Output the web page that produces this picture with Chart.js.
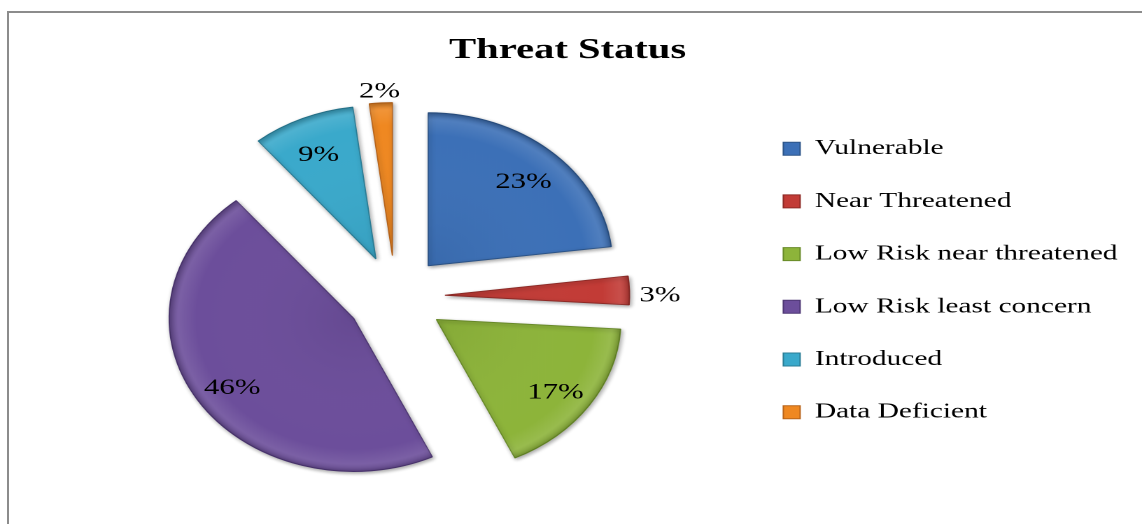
<!DOCTYPE html>
<html>
<head>
<meta charset="utf-8">
<script src="https://cdn.jsdelivr.net/npm/chart.js@4.4.1/dist/chart.umd.min.js"></script>
<style>
  html, body { margin: 0; padding: 0; background: #ffffff; width: 1142px; height: 524px; overflow: hidden; }
  #frame { position: absolute; left: 7px; top: 11px; width: 1300px; height: 700px; border: 2px solid #8c8c8c; box-sizing: border-box; }
  #wrap { position: absolute; left: 0; top: 0; width: 816px; height: 524px; transform: scaleX(1.39951); transform-origin: 0 0; }
</style>
</head>
<body>
<div id="frame"></div>
<div id="wrap"><canvas id="c"></canvas></div>
<script>
// ---- data ----
const chartTitle = 'Threat Status';
const categories = ['Vulnerable', 'Near Threatened', 'Low Risk near threatened', 'Low Risk least concern', 'Introduced', 'Data Deficient'];
const percentages = [23, 3, 17, 46, 9, 2];

// ---- style ----
const sliceColors = ['#3c70b7', '#c23b36', '#8db43a', '#6c4e9b', '#3aa9cb', '#ef8821'];
const edgeColors  = ['#2c5488', '#8e2a26', '#688a28', '#4e3774', '#2a7d96', '#b8641a'];
const KX = 0.862;        // horizontal squash of the pie (elliptical look)
const EXPLODE = 41;      // explosion distance of every slice
const PIE_RADIUS = 153;

const explodedPie = {
  id: 'explodedPie',
  beforeDatasetDraw(chart, args) {
    const ctx = chart.ctx;
    args.meta.data.forEach((arc, i) => {
      const p = arc.getProps(['x', 'y', 'startAngle', 'endAngle', 'outerRadius'], true);
      const mid = (p.startAngle + p.endAngle) / 2;
      ctx.save();
      ctx.translate(p.x, p.y);
      ctx.scale(KX, 1);
      ctx.translate(EXPLODE * Math.cos(mid), EXPLODE * Math.sin(mid));
      ctx.translate(-p.x, -p.y);
      ctx.shadowColor = 'rgba(0,0,0,0.35)';
      ctx.shadowBlur = 7;
      ctx.shadowOffsetX = 2;
      ctx.shadowOffsetY = 3;
      arc.draw(ctx);
      ctx.shadowColor = 'rgba(0,0,0,0)';
      ctx.beginPath();
      ctx.moveTo(p.x, p.y);
      ctx.arc(p.x, p.y, p.outerRadius, p.startAngle, p.endAngle);
      ctx.closePath();
      const g = ctx.createRadialGradient(p.x, p.y, 0, p.x, p.y, p.outerRadius);
      g.addColorStop(0, 'rgba(0,0,0,0.06)');
      g.addColorStop(0.85, 'rgba(255,255,255,0.0)');
      g.addColorStop(0.95, 'rgba(255,255,255,0.10)');
      g.addColorStop(1, 'rgba(0,0,0,0.18)');
      ctx.fillStyle = g;
      ctx.fill();
      ctx.restore();
    });
    return false;
  },
  afterDatasetsDraw(chart) {
    const ctx = chart.ctx;
    const meta = chart.getDatasetMeta(0);
    ctx.save();
    ctx.font = '22px "Liberation Serif"';
    ctx.fillStyle = '#000000';
    ctx.textAlign = 'center';
    ctx.textBaseline = 'middle';
    meta.data.forEach((arc, i) => {
      const p = arc.getProps(['x', 'y', 'startAngle', 'endAngle', 'outerRadius'], true);
      const mid = (p.startAngle + p.endAngle) / 2;
      const c = Math.cos(mid), s = Math.sin(mid);
      const label = percentages[i] + '%';
      let dist;
      if (percentages[i] < 5) {
        const w = ctx.measureText(label).width;
        dist = EXPLODE + p.outerRadius + 8 + Math.abs(c) * (w / 2) / KX + Math.abs(s) * 8;
      } else {
        dist = EXPLODE + 0.78 * p.outerRadius;
      }
      ctx.fillText(label, p.x + KX * dist * c, p.y + dist * s + 6);
    });
    ctx.restore();
  }
};

Chart.defaults.font.family = '"Liberation Serif", "Times New Roman", serif';
Chart.defaults.color = '#000000';

new Chart(document.getElementById('c'), {
  type: 'pie',
  data: {
    labels: categories,
    datasets: [{
      data: percentages,
      backgroundColor: sliceColors,
      borderColor: edgeColors,
      borderWidth: 1,
      radius: PIE_RADIUS,
      clip: false
    }]
  },
  options: {
    responsive: true,
    maintainAspectRatio: false,
    devicePixelRatio: 2,
    animation: false,
    layout: { padding: { top: 36, bottom: 0, left: 7.5, right: 12.3 } },
    plugins: {
      title: {
        display: true,
        text: chartTitle,
        color: '#000000',
        font: { size: 29, weight: 'bold', lineHeight: 1 },
        padding: { top: 0, bottom: 4 }
      },
      legend: {
        position: 'right',
        maxWidth: 246,
        title: {
          display: true,
          text: ' ',
          font: { size: 1, lineHeight: 1 },
          padding: { top: 29.6, bottom: 0 }
        },
        labels: {
          color: '#000000',
          font: { size: 21, lineHeight: 2.4143 },
          boxWidth: 12,
          boxHeight: 13,
          padding: 2,
          generateLabels(chart) {
            const items = Chart.overrides.pie.plugins.legend.labels.generateLabels(chart);
            return items.map(it => Object.assign(it, { text: [it.text] }));
          }
        }
      },
      tooltip: { enabled: false }
    }
  },
  plugins: [explodedPie]
});
</script>
</body>
</html>
